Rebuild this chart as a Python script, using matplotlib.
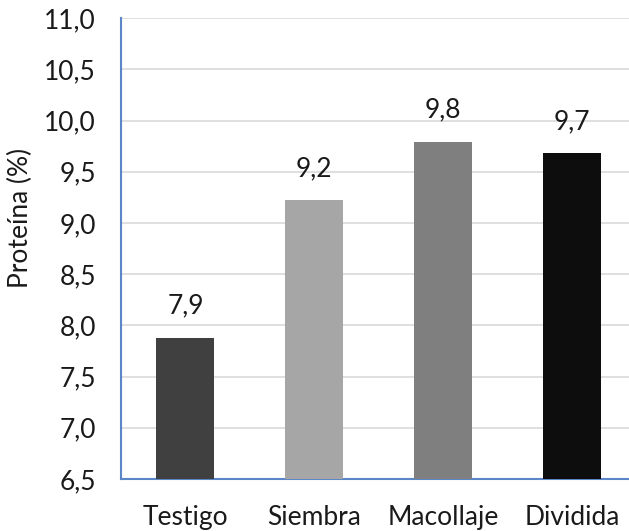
import numpy as np
import matplotlib.pyplot as plt

# protein content per fertilisation treatment
tratamientos = ['Testigo', 'Siembra', 'Macollaje', 'Dividida']
proteina = [7.88, 9.22, 9.79, 9.68]
colores = ['#404040', '#a6a6a6', '#7f7f7f', '#0d0d0d']
yticks = np.arange(6.5, 11.01, 0.5)

plt.rcParams['font.family'] = ['Lato', 'DejaVu Sans']
fs = 19

fig = plt.figure(figsize=(6.29, 5.31), dpi=100)
ax = fig.add_axes([0.1924, 0.0979, 0.8196, 0.868])

x = np.arange(len(tratamientos))
bars = ax.bar(x, proteina, width=0.45, color=colores, zorder=3)

for xi, v in zip(x, proteina):
    ax.text(xi, v + 0.19, f'{v:.1f}'.replace('.', ','), ha='center', va='bottom',
            fontsize=fs, color='#1a1a1a')

ax.set_xlim(-0.5, 3.5)
ax.set_ylim(6.5, 11.0)
ax.set_yticks(yticks)
ax.set_yticklabels([f'{t:.1f}'.replace('.', ',') for t in yticks])
ax.set_xticks(x)
ax.set_xticklabels(tratamientos)
ax.tick_params(axis='both', length=0, labelsize=fs, colors='#1a1a1a')
ax.tick_params(axis='y', pad=18)
ax.tick_params(axis='x', pad=19)
ax.grid(axis='y', color='#d9d9d9', linewidth=1.2, zorder=0)

for s in ['top', 'right']:
    ax.spines[s].set_visible(False)
for s in ['left', 'bottom']:
    ax.spines[s].set_color('#5b87c8')
    ax.spines[s].set_linewidth(1.5)

ax.set_ylabel('Proteína (%)', fontsize=fs, color='#1a1a1a')
ax.yaxis.set_label_coords(-0.171, 0.566)

fig.savefig('out.png', dpi=100)
